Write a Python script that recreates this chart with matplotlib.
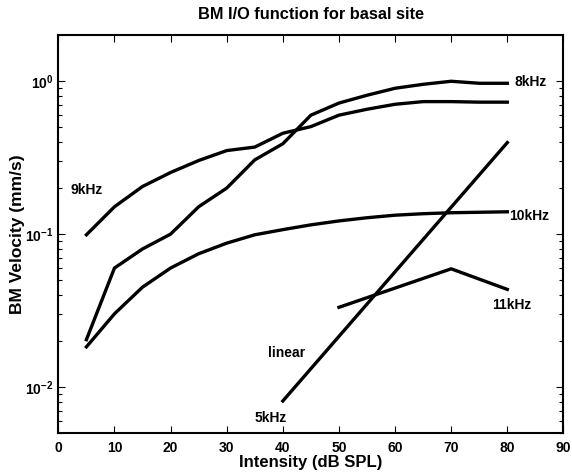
import numpy as np
import matplotlib.pyplot as plt

plt.rcParams['font.family'] = 'Liberation Sans'
plt.rcParams['font.weight'] = 'bold'
plt.rcParams['mathtext.fontset'] = 'custom'
plt.rcParams['mathtext.rm'] = 'Liberation Sans:bold'
plt.rcParams['mathtext.bf'] = 'Liberation Sans:bold'
plt.rcParams['mathtext.default'] = 'bf'

# data
db = [5, 10, 15, 20, 25, 30, 35, 40, 45, 50, 55, 60, 65, 70, 75, 80]
v8k = [0.0204, 0.06, 0.08, 0.1, 0.151, 0.2, 0.306, 0.39, 0.6, 0.72,
       0.81, 0.9, 0.955, 1.0, 0.97, 0.97]
v9k = [0.099, 0.151, 0.205, 0.253, 0.303, 0.352, 0.371, 0.457, 0.505,
       0.6, 0.656, 0.707, 0.736, 0.736, 0.73, 0.73]
v10k = [0.0183, 0.0301, 0.045, 0.06, 0.0744, 0.0873, 0.099, 0.107, 0.115,
        0.122, 0.128, 0.133, 0.136, 0.138, 0.139, 0.14]
db11 = [50, 70, 80]
v11k = [0.0332, 0.0593, 0.0435]
db_lin = [40, 80]
v_lin = [0.0081, 0.397]

labels = ['8kHz', '9kHz', '10kHz', '11kHz', 'linear', '5kHz']
label_x = [81.2, 2.1, 80.3, 77.3, 37.3, 35.0]
label_y = [0.985, 0.195, 0.132, 0.0345, 0.0167, 0.0063]

fig = plt.figure(figsize=(5.72, 4.75), dpi=100)
ax = fig.add_axes([0.102, 0.0884, 0.883, 0.8374])

lw = 2.4
ax.plot(db, v8k, 'k-', lw=lw)
ax.plot(db, v9k, 'k-', lw=lw)
ax.plot(db, v10k, 'k-', lw=lw)
ax.plot(db11, v11k, 'k-', lw=lw)
ax.plot(db_lin, v_lin, 'k-', lw=lw)

for s, x, y in zip(labels, label_x, label_y):
    ax.text(x, y, s, fontsize=10, fontweight='bold', va='center', ha='left')

ax.set_yscale('log')
ax.set_xlim(0, 90)
ax.set_ylim(0.005, 2)
ax.set_xticks(range(0, 91, 10))
ax.tick_params(which='both', direction='in', top=True, right=True, labelsize=10)
ax.tick_params(which='major', length=5, width=0.8)
ax.tick_params(which='minor', length=3, width=0.8)
ax.tick_params(axis='x', which='minor', bottom=False, top=False)
ax.tick_params(axis='x', pad=6)
for sp in ax.spines.values():
    sp.set_linewidth(1.5)

ax.set_title('BM I/O function for basal site', fontsize=11.8, fontweight='bold', pad=12)
ax.set_xlabel('Intensity (dB SPL)', fontsize=12, fontweight='bold', labelpad=0)
ax.set_ylabel('BM Velocity (mm/s)', fontsize=12.5, fontweight='bold', labelpad=0)

fig.savefig('out.png', dpi=100)
